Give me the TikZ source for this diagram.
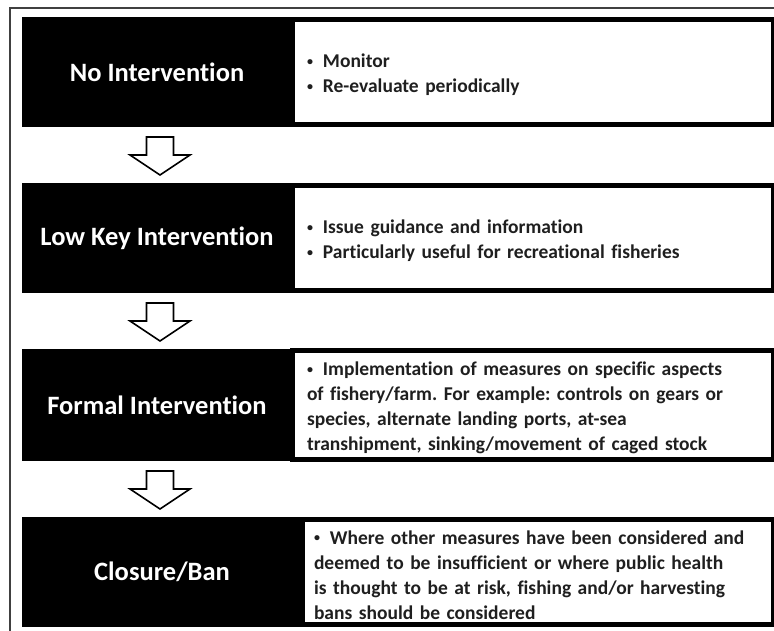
\documentclass[tikz,border=0pt]{standalone}
\usepackage{fontspec}
\setmainfont{Carlito}[Ligatures=NoCommon]
\usetikzlibrary{positioning}

\newcommand{\bitem}{\par\noindent\hangindent=9pt\hangafter=1%
  {\fontsize{12}{12}\selectfont\raisebox{2.5pt}{\textbullet}}\hspace{10pt}}
\newcommand{\boxend}{\par\vspace*{5pt}}

\begin{document}
\frenchspacing
\begin{tikzpicture}[
  x=1pt, y=1pt,
  node distance=56pt,
  level/.style={fill=black, text=white, font=\bfseries\fontsize{26.5}{30}\selectfont,
    minimum width=270pt, minimum height=110pt, inner sep=0pt, outer sep=0pt},
  detail/.style={draw=black, line width=5pt, fill=white, text=black!88,
    font=\bfseries\fontsize{19.5}{25}\selectfont, text width=451.5pt, align=left,
    minimum width=481.5pt, minimum height=105pt, inner xsep=15pt, inner ysep=0pt, outer sep=0pt,
    execute at end node=\boxend},
  downarrow/.pic={\draw[line width=1.6pt, fill=white] (-13.5,0) -- (-13.5,-18) -- (-30,-18)
    -- (0,-38) -- (30,-18) -- (13.5,-18) -- (13.5,0) -- cycle;}]
\useasboundingbox (0,0) rectangle (774,630);
\clip (0,0) rectangle (774,630);
\fill[white] (0,0) rectangle (774,630);
% outer frame
\draw[line width=1.5pt, black!75] (10,-10) -- (10,622) -- (790,622);

% levels of intervention
\node[level] (t1) at (157,558) {No Intervention};
\node[level, below=of t1] (t2) {Low Key Intervention};
\node[level, below=of t2, minimum height=112pt] (t3) {Formal Intervention};
\node[level, below=of t3, minimum width=280pt, xshift=5pt] (t4) {Closure/Ban};

\node[detail, right=0pt of t1] (d1) {\bitem Monitor
  \bitem Re-evaluate periodically};
\node[detail, right=0pt of t2] (d2) {\bitem Issue guidance and information
  \bitem Particularly useful for recreational fisheries};
\node[detail, right=0pt of t3, minimum height=107pt] (d3) {\bitem Implementation of measures on specific aspects\\
  of fishery/farm. For example: controls on gears or\\
  species, alternate landing ports, at-sea\\
  transhipment, sinking/movement of caged stock};
\node[detail, right=0pt of t4, minimum width=471.5pt, text width=447.5pt, inner xsep=12pt] (d4) {\bitem Where other measures have been considered and\\
  deemed to be insufficient or where public health\\
  is thought to be at risk, fishing and/or harvesting\\
  bans should be considered};

% arrows between levels
\coordinate[below=10pt of t1] (a1);
\coordinate[below=10pt of t2] (a2);
\coordinate[below=10pt of t3] (a3);
\foreach \a in {a1,a2,a3}
  \pic[xshift=3pt] at (\a) {downarrow};
\end{tikzpicture}
\end{document}
